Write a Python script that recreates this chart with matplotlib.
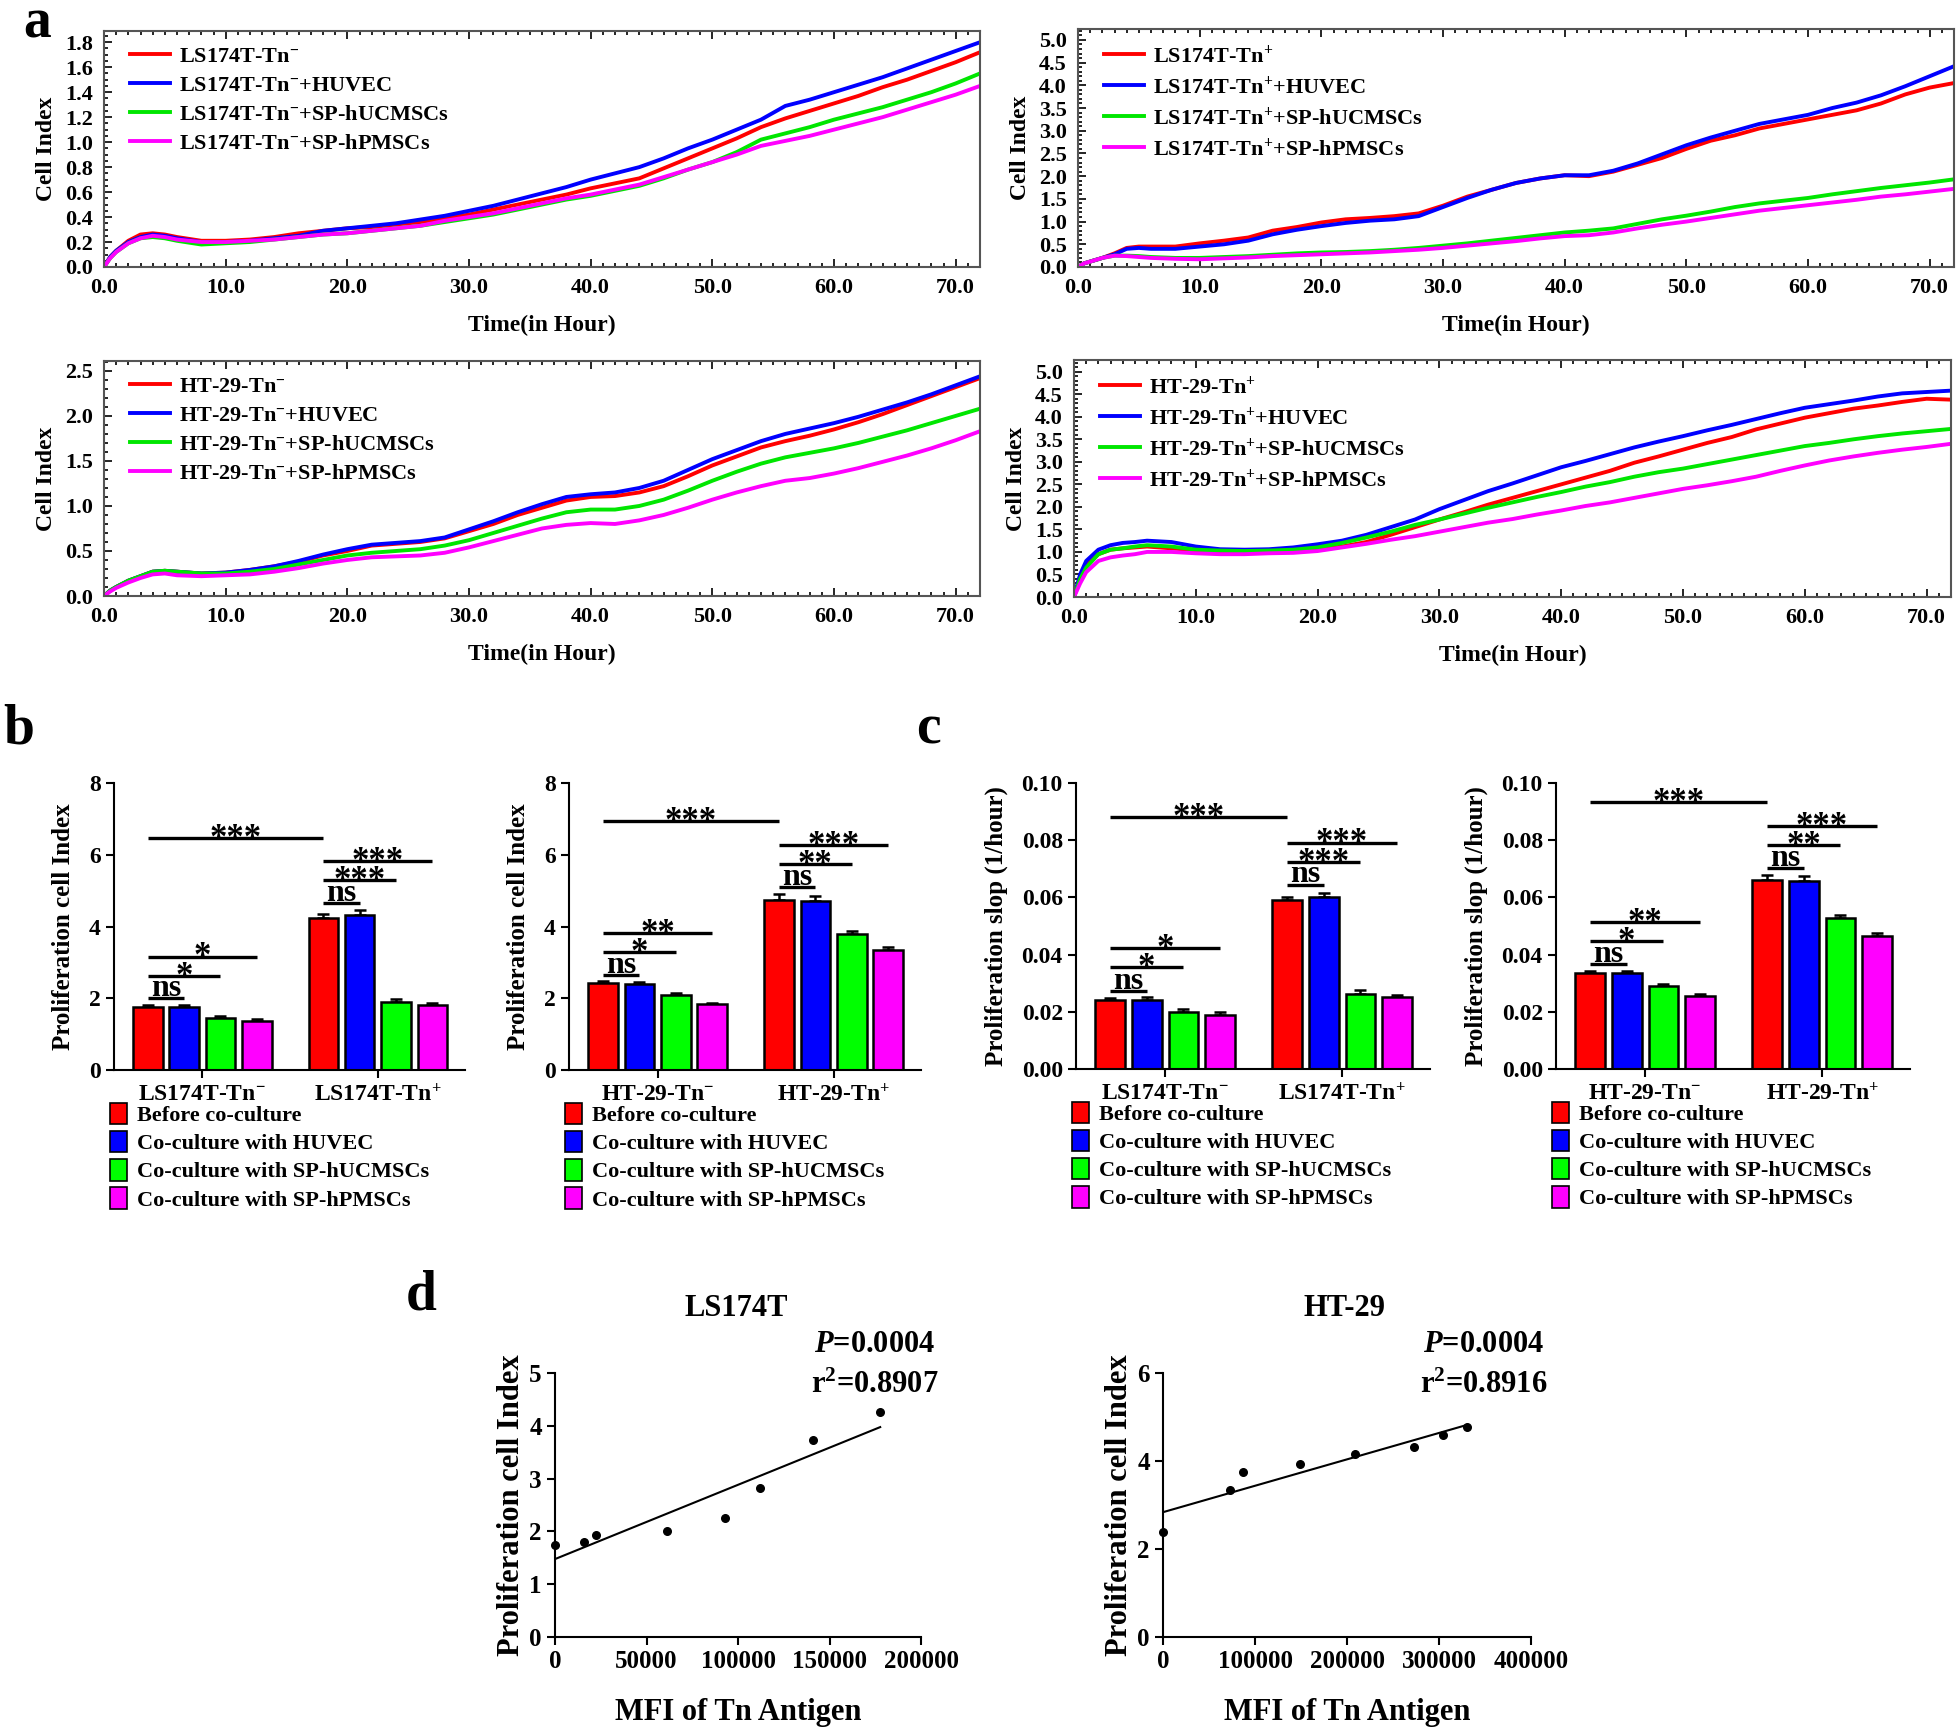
import numpy as np
import matplotlib
matplotlib.use('Agg')
import matplotlib.pyplot as plt
from matplotlib.ticker import MultipleLocator, FormatStrFormatter
from matplotlib.patches import Patch

plt.rcParams['font.family'] = 'Liberation Serif'
plt.rcParams['font.weight'] = 'bold'
plt.rcParams['axes.labelweight'] = 'bold'
plt.rcParams['mathtext.fontset'] = 'custom'
plt.rcParams['mathtext.rm'] = 'Liberation Serif:bold'
plt.rcParams['mathtext.it'] = 'Liberation Serif:italic:bold'
plt.rcParams['mathtext.bf'] = 'Liberation Serif:bold'
plt.rcParams['axes.linewidth'] = 1.5

# ---------------- data ----------------
hours = [0, 0.5, 1, 2, 3, 4, 5, 6] + list(range(8, 73, 2))

# LS174T-Tn-
ls_neg = [0, 0.08, 0.13, 0.21, 0.26, 0.27, 0.26, 0.24, 0.21, 0.21, 0.22, 0.24, 0.27, 0.29, 0.31, 0.32, 0.34,
          0.36, 0.39, 0.42, 0.46, 0.50, 0.54, 0.58, 0.63, 0.67, 0.71, 0.79, 0.87, 0.95, 1.03, 1.12, 1.19,
          1.25, 1.31, 1.37, 1.44, 1.50, 1.57, 1.64, 1.72]
ls_neg_huvec = [0, 0.08, 0.13, 0.20, 0.24, 0.26, 0.25, 0.23, 0.20, 0.20, 0.21, 0.23, 0.25, 0.29, 0.31, 0.33,
                0.35, 0.38, 0.41, 0.45, 0.49, 0.54, 0.59, 0.64, 0.70, 0.75, 0.80, 0.87, 0.95, 1.02, 1.10,
                1.18, 1.29, 1.34, 1.40, 1.46, 1.52, 1.59, 1.66, 1.73, 1.80]
ls_neg_uc = [0, 0.07, 0.12, 0.19, 0.23, 0.24, 0.23, 0.21, 0.18, 0.19, 0.20, 0.22, 0.24, 0.26, 0.27, 0.29,
             0.31, 0.33, 0.36, 0.39, 0.42, 0.46, 0.50, 0.54, 0.57, 0.61, 0.65, 0.71, 0.78, 0.84, 0.92,
             1.02, 1.07, 1.12, 1.18, 1.23, 1.28, 1.34, 1.40, 1.47, 1.55]
ls_neg_p = [0, 0.07, 0.12, 0.19, 0.23, 0.25, 0.24, 0.22, 0.20, 0.20, 0.21, 0.22, 0.24, 0.26, 0.27, 0.29,
            0.31, 0.33, 0.37, 0.40, 0.43, 0.47, 0.51, 0.55, 0.58, 0.62, 0.66, 0.72, 0.78, 0.84, 0.90,
            0.97, 1.01, 1.05, 1.10, 1.15, 1.20, 1.26, 1.32, 1.38, 1.45]

# LS174T-Tn+
ls_pos = [0, 0.08, 0.12, 0.20, 0.30, 0.42, 0.45, 0.45, 0.45, 0.52, 0.58, 0.65, 0.80, 0.88, 0.98, 1.05, 1.08,
          1.12, 1.18, 1.35, 1.55, 1.70, 1.85, 1.95, 2.02, 2.00, 2.10, 2.25, 2.40, 2.60, 2.78, 2.90, 3.05,
          3.15, 3.25, 3.35, 3.45, 3.60, 3.80, 3.95, 4.05]
ls_pos_huvec = [0, 0.08, 0.12, 0.20, 0.28, 0.40, 0.42, 0.40, 0.40, 0.45, 0.50, 0.58, 0.72, 0.82, 0.90, 0.97,
                1.02, 1.05, 1.12, 1.32, 1.52, 1.70, 1.85, 1.95, 2.02, 2.02, 2.12, 2.28, 2.48, 2.68, 2.85,
                3.00, 3.15, 3.25, 3.35, 3.50, 3.62, 3.78, 3.98, 4.20, 4.42]
ls_pos_uc = [0, 0.08, 0.12, 0.20, 0.25, 0.25, 0.24, 0.22, 0.20, 0.20, 0.22, 0.24, 0.27, 0.30, 0.32, 0.33,
             0.35, 0.38, 0.42, 0.47, 0.52, 0.58, 0.64, 0.70, 0.76, 0.80, 0.85, 0.95, 1.05, 1.13, 1.22,
             1.32, 1.40, 1.46, 1.52, 1.60, 1.67, 1.74, 1.80, 1.86, 1.93]
ls_pos_p = [0, 0.08, 0.12, 0.20, 0.25, 0.24, 0.22, 0.20, 0.18, 0.17, 0.19, 0.21, 0.24, 0.26, 0.28, 0.30,
            0.32, 0.35, 0.38, 0.42, 0.47, 0.52, 0.57, 0.63, 0.68, 0.70, 0.76, 0.85, 0.93, 1.00, 1.08,
            1.16, 1.24, 1.30, 1.36, 1.42, 1.48, 1.55, 1.60, 1.66, 1.72]

# HT-29-Tn-
ht_neg = [0, 0.06, 0.10, 0.17, 0.22, 0.27, 0.28, 0.27, 0.25, 0.26, 0.29, 0.33, 0.38, 0.45, 0.50, 0.56, 0.58,
          0.60, 0.64, 0.72, 0.80, 0.90, 0.98, 1.06, 1.10, 1.11, 1.15, 1.22, 1.33, 1.45, 1.55, 1.65, 1.72,
          1.78, 1.85, 1.93, 2.02, 2.12, 2.22, 2.32, 2.42]
ht_neg_huvec = [0, 0.06, 0.10, 0.17, 0.22, 0.27, 0.28, 0.27, 0.25, 0.26, 0.29, 0.33, 0.39, 0.46, 0.52, 0.57,
                0.59, 0.61, 0.65, 0.74, 0.83, 0.93, 1.02, 1.10, 1.13, 1.15, 1.20, 1.28, 1.40, 1.52, 1.62,
                1.72, 1.80, 1.86, 1.92, 1.99, 2.07, 2.15, 2.24, 2.34, 2.44]
ht_neg_uc = [0, 0.06, 0.10, 0.17, 0.22, 0.27, 0.28, 0.27, 0.25, 0.25, 0.27, 0.30, 0.35, 0.40, 0.45, 0.48,
             0.50, 0.52, 0.56, 0.62, 0.70, 0.78, 0.86, 0.93, 0.96, 0.96, 1.00, 1.07, 1.17, 1.28, 1.38,
             1.47, 1.54, 1.59, 1.64, 1.70, 1.77, 1.84, 1.92, 2.00, 2.08]
ht_neg_p = [0, 0.05, 0.09, 0.15, 0.20, 0.24, 0.25, 0.23, 0.22, 0.23, 0.24, 0.27, 0.31, 0.36, 0.40, 0.43,
            0.44, 0.45, 0.48, 0.54, 0.61, 0.68, 0.75, 0.79, 0.81, 0.80, 0.84, 0.90, 0.98, 1.07, 1.15,
            1.22, 1.28, 1.31, 1.36, 1.42, 1.49, 1.56, 1.64, 1.73, 1.83]

# HT-29-Tn+
ht_pos = [0, 0.45, 0.70, 0.95, 1.05, 1.08, 1.10, 1.12, 1.08, 1.03, 1.00, 1.00, 1.00, 1.02, 1.05, 1.12, 1.22,
          1.38, 1.55, 1.72, 1.88, 2.05, 2.20, 2.35, 2.50, 2.65, 2.80, 2.98, 3.12, 3.27, 3.42, 3.55, 3.72,
          3.85, 3.98, 4.08, 4.18, 4.25, 4.33, 4.40, 4.38]
ht_pos_huvec = [0, 0.50, 0.80, 1.05, 1.15, 1.20, 1.22, 1.25, 1.22, 1.12, 1.06, 1.05, 1.06, 1.10, 1.17, 1.25,
                1.38, 1.55, 1.72, 1.95, 2.15, 2.35, 2.52, 2.70, 2.88, 3.02, 3.17, 3.32, 3.45, 3.57, 3.70,
                3.82, 3.95, 4.08, 4.20, 4.28, 4.36, 4.45, 4.52, 4.55, 4.58]
ht_pos_uc = [0, 0.40, 0.65, 0.95, 1.05, 1.08, 1.12, 1.15, 1.12, 1.05, 1.03, 1.02, 1.03, 1.05, 1.10, 1.20,
             1.32, 1.45, 1.60, 1.72, 1.85, 1.98, 2.10, 2.22, 2.33, 2.45, 2.55, 2.67, 2.77, 2.85, 2.95,
             3.05, 3.15, 3.25, 3.35, 3.42, 3.50, 3.57, 3.63, 3.68, 3.73]
ht_pos_p = [0, 0.30, 0.55, 0.80, 0.88, 0.92, 0.95, 1.00, 1.00, 0.97, 0.95, 0.95, 0.97, 0.98, 1.02, 1.10,
            1.18, 1.27, 1.35, 1.45, 1.55, 1.65, 1.73, 1.83, 1.92, 2.02, 2.10, 2.20, 2.30, 2.40, 2.48,
            2.57, 2.67, 2.80, 2.92, 3.03, 3.12, 3.20, 3.27, 3.33, 3.40]

# panel b: proliferation cell index (mean, sem)
ls_index_neg = [1.75, 1.75, 1.45, 1.36]
ls_index_neg_err = [0.05, 0.06, 0.06, 0.05]
ls_index_pos = [4.25, 4.33, 1.90, 1.82]
ls_index_pos_err = [0.10, 0.12, 0.08, 0.06]
ht_index_neg = [2.42, 2.41, 2.08, 1.83]
ht_index_neg_err = [0.05, 0.05, 0.07, 0.05]
ht_index_pos = [4.75, 4.72, 3.80, 3.35]
ht_index_pos_err = [0.15, 0.14, 0.08, 0.07]

# panel c: proliferation slope
ls_slope_neg = [0.0243, 0.0243, 0.0200, 0.0189]
ls_slope_neg_err = [0.0006, 0.0009, 0.0009, 0.0009]
ls_slope_pos = [0.0590, 0.0602, 0.0263, 0.0253]
ls_slope_pos_err = [0.0012, 0.0015, 0.0012, 0.0007]
ht_slope_neg = [0.0335, 0.0335, 0.0289, 0.0256]
ht_slope_neg_err = [0.0006, 0.0007, 0.0009, 0.0007]
ht_slope_pos = [0.0660, 0.0657, 0.0527, 0.0466]
ht_slope_pos_err = [0.0017, 0.0017, 0.0010, 0.0009]

# panel d
ls_mfi = [0, 16000, 22300, 61300, 92900, 111800, 141000, 177700]
ls_pci = [1.75, 1.80, 1.94, 2.00, 2.26, 2.83, 3.73, 4.26]
ht_mfi = [0, 72600, 86800, 148600, 208800, 273100, 304000, 329900]
ht_pci = [2.39, 3.34, 3.76, 3.93, 4.15, 4.31, 4.58, 4.78]

colors = ['#FF0000', '#0000FF', '#00FF00', '#FF00FF']
line_colors = ['#FF0000', '#0000FF', '#00E600', '#FF00FF']
coculture = ['Before co-culture', 'Co-culture with HUVEC',
             'Co-culture with SP-hUCMSCs', 'Co-culture with SP-hPMSCs']

W, H = 1960, 1729
fig = plt.figure(figsize=(W / 100, H / 100), dpi=100)


def box(l, t, r, b):
    return fig.add_axes([l / W, 1 - b / H, (r - l) / W, (b - t) / H])


def ftext(x, y, s, **kw):
    fig.text(x / W, 1 - y / H, s, **kw)


# ---------------- panel a ----------------
def growth(ax, series, names, ymax, ymajor, yminor):
    for s, n, c in zip(series, names, line_colors):
        ax.plot(hours, s, color=c, lw=2.8, label=n)
    ax.set_xlim(0, 72)
    ax.set_ylim(0, ymax)
    ax.xaxis.set_major_locator(MultipleLocator(10))
    ax.xaxis.set_minor_locator(MultipleLocator(1))
    ax.yaxis.set_major_locator(MultipleLocator(ymajor))
    ax.yaxis.set_minor_locator(MultipleLocator(yminor))
    ax.xaxis.set_major_formatter(FormatStrFormatter('%.1f'))
    ax.yaxis.set_major_formatter(FormatStrFormatter('%.1f'))
    ax.tick_params(which='both', direction='in', top=True, right=False, labelsize=16, width=1.2)
    ax.tick_params(which='major', length=6, pad=8)
    ax.tick_params(which='minor', length=3)
    for sp in ax.spines.values():
        sp.set_color('#555555')
    ax.set_xlabel('Time(in Hour)', fontsize=17, labelpad=12)
    ax.set_ylabel('Cell Index', fontsize=17, labelpad=6)
    ax.legend(loc='upper left', bbox_to_anchor=(0.03, 0.935), frameon=False, fontsize=16,
              handlelength=1.8, handletextpad=0.4, labelspacing=0.38, borderaxespad=0, borderpad=0)


ax = box(104, 31, 980, 267)
growth(ax, [ls_neg, ls_neg_huvec, ls_neg_uc, ls_neg_p],
       ['LS174T-Tn$^{-}$', 'LS174T-Tn$^{-}$+HUVEC', 'LS174T-Tn$^{-}$+SP-hUCMSCs', 'LS174T-Tn$^{-}$+SP-hPMSCs'],
       1.89, 0.2, 0.05)
ax = box(1078, 29, 1954, 267)
growth(ax, [ls_pos, ls_pos_huvec, ls_pos_uc, ls_pos_p],
       ['LS174T-Tn$^{+}$', 'LS174T-Tn$^{+}$+HUVEC', 'LS174T-Tn$^{+}$+SP-hUCMSCs', 'LS174T-Tn$^{+}$+SP-hPMSCs'],
       5.24, 0.5, 0.1)
ax = box(104, 361, 980, 596)
growth(ax, [ht_neg, ht_neg_huvec, ht_neg_uc, ht_neg_p],
       ['HT-29-Tn$^{-}$', 'HT-29-Tn$^{-}$+HUVEC', 'HT-29-Tn$^{-}$+SP-hUCMSCs', 'HT-29-Tn$^{-}$+SP-hPMSCs'],
       2.61, 0.5, 0.1)
ax = box(1074, 360, 1951, 597)
growth(ax, [ht_pos, ht_pos_huvec, ht_pos_uc, ht_pos_p],
       ['HT-29-Tn$^{+}$', 'HT-29-Tn$^{+}$+HUVEC', 'HT-29-Tn$^{+}$+SP-hUCMSCs', 'HT-29-Tn$^{+}$+SP-hPMSCs'],
       5.26, 0.5, 0.1)


# ---------------- panels b, c ----------------
def bars(ax, neg, neg_err, pos, pos_err, groups, ymax, ystep, fmt, ylabel, sig):
    x_neg = np.arange(4)
    x_pos = np.arange(4) + 4.83
    for xs, v, e in [(x_neg, neg, neg_err), (x_pos, pos, pos_err)]:
        ax.bar(xs, v, width=0.81, color=colors, edgecolor='black', linewidth=1.8, zorder=2)
        ax.errorbar(xs, v, yerr=[[0] * 4, e], fmt='none', ecolor='black', elinewidth=1.8,
                    capsize=4.5, capthick=1.8, zorder=1)
    xall = list(x_neg) + list(x_pos)
    for i, j, y, s in sig:
        ax.plot([xall[i], xall[j]], [y, y], color='black', lw=2.4, solid_capstyle='butt')
        xm = (xall[i] + xall[j]) / 2
        if s == 'ns':
            ax.annotate(s, (xm, y), xytext=(0, 1.5), textcoords='offset points',
                        ha='center', va='baseline', fontsize=23)
        else:
            ax.annotate(s, (xm, y), xytext=(0, -7), textcoords='offset points',
                        ha='center', va='baseline', fontsize=25)
    ax.set_xlim(-0.93, 8.73)
    ax.set_ylim(0, ymax)
    ax.yaxis.set_major_locator(MultipleLocator(ystep))
    ax.yaxis.set_major_formatter(FormatStrFormatter(fmt))
    ax.set_xticks([1.5, 6.33])
    ax.set_xticklabels(groups)
    ax.spines['top'].set_visible(False)
    ax.spines['right'].set_visible(False)
    ax.tick_params(direction='out', length=6, width=1.5, labelsize=17)
    ax.tick_params(axis='x', pad=4)
    ax.set_ylabel(ylabel, fontsize=18, labelpad=10)
    handles = [Patch(facecolor=c, edgecolor='black', linewidth=1.2) for c in colors]
    ax.legend(handles, coculture, loc='upper left', bbox_to_anchor=(-0.01, -0.115), frameon=False,
              fontsize=16, handlelength=0.75, handleheight=1.1, handletextpad=0.45, labelspacing=0.22,
              borderaxespad=0, borderpad=0)


ax = box(114, 783, 465, 1070)
bars(ax, ls_index_neg, ls_index_neg_err, ls_index_pos, ls_index_pos_err,
     ['LS174T-Tn$^{-}$', 'LS174T-Tn$^{+}$'], 8, 2, '%d', 'Proliferation cell Index',
     [(0, 1, 2.0, 'ns'), (0, 2, 2.62, '*'), (0, 3, 3.16, '*'), (0, 4, 6.47, '***'),
      (4, 5, 4.66, 'ns'), (4, 6, 5.29, '***'), (4, 7, 5.83, '***')])
ax = box(569, 783, 921, 1070)
bars(ax, ht_index_neg, ht_index_neg_err, ht_index_pos, ht_index_pos_err,
     ['HT-29-Tn$^{-}$', 'HT-29-Tn$^{+}$'], 8, 2, '%d', 'Proliferation cell Index',
     [(0, 1, 2.64, 'ns'), (0, 2, 3.29, '*'), (0, 3, 3.82, '**'), (0, 4, 6.94, '***'),
      (4, 5, 5.09, 'ns'), (4, 6, 5.73, '**'), (4, 7, 6.26, '***')])
ax = box(1076, 783, 1430, 1069)
bars(ax, ls_slope_neg, ls_slope_neg_err, ls_slope_pos, ls_slope_pos_err,
     ['LS174T-Tn$^{-}$', 'LS174T-Tn$^{+}$'], 0.10, 0.02, '%.2f', 'Proliferation slop (1/hour)',
     [(0, 1, 0.0274, 'ns'), (0, 2, 0.0355, '*'), (0, 3, 0.0422, '*'), (0, 4, 0.0881, '***'),
      (4, 5, 0.0645, 'ns'), (4, 6, 0.0724, '***'), (4, 7, 0.0791, '***')])
ax = box(1556, 783, 1910, 1069)
bars(ax, ht_slope_neg, ht_slope_neg_err, ht_slope_pos, ht_slope_pos_err,
     ['HT-29-Tn$^{-}$', 'HT-29-Tn$^{+}$'], 0.10, 0.02, '%.2f', 'Proliferation slop (1/hour)',
     [(0, 1, 0.0366, 'ns'), (0, 2, 0.0447, '*'), (0, 3, 0.0514, '**'), (0, 4, 0.0934, '***'),
      (4, 5, 0.0704, 'ns'), (4, 6, 0.0783, '**'), (4, 7, 0.0849, '***')])


# ---------------- panel d ----------------
def corr(ax, mfi, pci, xmax, xstep, ymax, title, p, r2, tx, px):
    ax.scatter(mfi, pci, s=30, color='black', zorder=3, clip_on=False)
    k, b0 = np.polyfit(mfi, pci, 1)
    xs = np.array([0, max(mfi)])
    ax.plot(xs, k * xs + b0, color='black', lw=1.5)
    ax.set_xlim(0, xmax)
    ax.set_ylim(0, ymax)
    ax.xaxis.set_major_locator(MultipleLocator(xstep))
    ax.spines['top'].set_visible(False)
    ax.spines['right'].set_visible(False)
    ax.tick_params(direction='out', length=6, width=1.5, labelsize=18)
    ax.set_xlabel('MFI of Tn Antigen', fontsize=22, labelpad=18)
    ax.set_ylabel('Proliferation cell Index', fontsize=22, labelpad=2)
    ftext(tx, 1309, title, ha='center', va='center', fontsize=22)
    ftext(px, 1345, '$P$=' + p, ha='right', va='center', fontsize=22)
    ftext(px + 4, 1385, 'r$^2$=' + r2, ha='right', va='center', fontsize=22)


ax = box(555, 1373, 921, 1637)
corr(ax, ls_mfi, ls_pci, 200000, 50000, 5, 'LS174T', '0.0004', '0.8907', 736, 935)
ax = box(1163, 1373, 1531, 1637)
corr(ax, ht_mfi, ht_pci, 400000, 100000, 6, 'HT-29', '0.0004', '0.8916', 1344, 1544)
ax.yaxis.set_major_locator(MultipleLocator(2))

# panel letters
ftext(37, 24, 'a', ha='center', va='center', fontsize=40)
ftext(19, 729, 'b', ha='center', va='center', fontsize=40)
ftext(928, 729, 'c', ha='center', va='center', fontsize=40)
ftext(421, 1296, 'd', ha='center', va='center', fontsize=40)

fig.savefig('out.png', dpi=100)
